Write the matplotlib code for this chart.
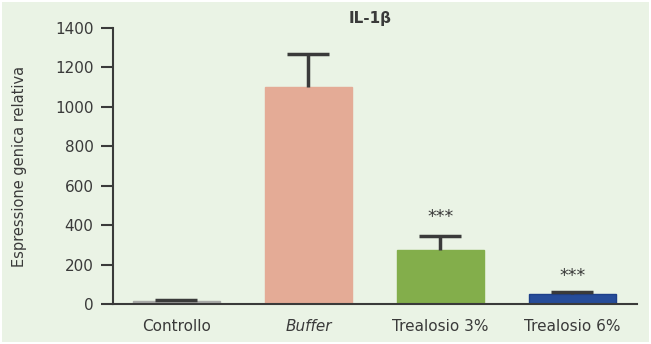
import numpy as np
import matplotlib.pyplot as plt
from matplotlib.patches import Rectangle

# dati
categorie = ["Controllo", "Buffer", "Trealosio 3%", "Trealosio 6%"]
valori = [15, 1100, 274, 51]
errori = [4, 168, 71, 9]
colori = ["#a9aaa8", "#e4ab96", "#83ae4b", "#264c99"]
bordi = ["#a9aaa8", "#e4ab96", "#83ae4b", "#1d3f8a"]
stelle = ["", "", "***", "***"]
pos_stelle = [0, 0, 441, 142]

sfondo = "#eaf3e5"
scuro = "#3a3a3a"

fig = plt.figure(figsize=(6.51, 3.44), dpi=100, facecolor="white")
fig.patches.append(Rectangle((2 / 651, 2 / 344), 647 / 651, 340 / 344,
                             transform=fig.transFigure, facecolor=sfondo,
                             edgecolor="none", zorder=-1))

ax = fig.add_axes([113 / 651, 40 / 344, 524 / 651, 276 / 344])
ax.set_facecolor("none")

x = np.arange(len(categorie))
ax.bar(x, valori, width=0.66, color=colori, edgecolor=bordi, linewidth=1, zorder=2)
_, caps, _ = ax.errorbar(x, valori, yerr=[np.zeros(len(errori)), errori], fmt="none",
                         ecolor=scuro, elinewidth=2.5, capsize=15, capthick=2.5,
                         zorder=3)
# solo il cappuccio superiore
caps[0].set_visible(False)

for xi, s, yi in zip(x, stelle, pos_stelle):
    if s:
        ax.text(xi, yi, s, ha="center", va="center", fontsize=12.5, color=scuro)

ax.set_xlim(-0.48, 3.49)
ax.set_ylim(0, 1400)
ax.set_yticks(np.arange(0, 1401, 200))
ax.set_xticks(x)
ax.set_xticklabels(categorie, fontsize=11, color=scuro)
ax.get_xticklabels()[1].set_style("italic")
ax.tick_params(axis="x", length=0, pad=11)
ax.tick_params(axis="y", length=9, width=1.5, color=scuro, labelsize=11,
               labelcolor=scuro, pad=5)

for s in ["top", "right"]:
    ax.spines[s].set_visible(False)
for s in ["left", "bottom"]:
    ax.spines[s].set_color(scuro)
    ax.spines[s].set_linewidth(1.5)

ax.set_ylabel("Espressione genica relativa", fontsize=10.5, color=scuro, labelpad=20)
fig.text(370 / 651, 1 - 19 / 344, "IL-1β", ha="center", va="center",
         fontsize=11, fontweight="bold", color=scuro)

fig.savefig("out.png", dpi=100, facecolor=fig.get_facecolor())
